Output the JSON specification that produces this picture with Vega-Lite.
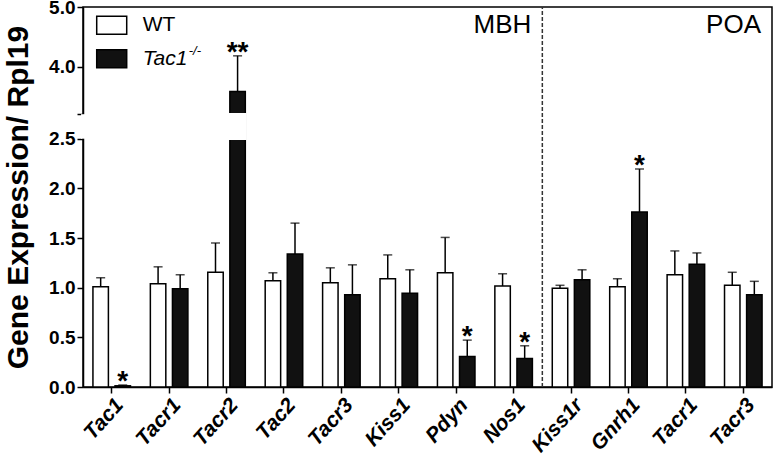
{
  "$schema": "https://vega.github.io/schema/vega-lite/v6.json",
  "width": 689,
  "height": 380,
  "autosize": {"type": "none"},
  "padding": {"left": 83, "top": 7, "right": 1, "bottom": 67},
  "background": "white",
  "config": {
    "view": {"stroke": "black", "strokeWidth": 1.5},
    "font": "Liberation Sans"
  },
  "datasets": {
    "expr": [
      {"key": "MBH Tac1", "genotype": "WT", "mean": 1.01, "upper": 1.10, "sig": ""},
      {"key": "MBH Tac1", "genotype": "KO", "mean": 0.012, "upper": 0.02, "sig": "*"},
      {"key": "MBH Tacr1", "genotype": "WT", "mean": 1.04, "upper": 1.21, "sig": ""},
      {"key": "MBH Tacr1", "genotype": "KO", "mean": 0.99, "upper": 1.13, "sig": ""},
      {"key": "MBH Tacr2", "genotype": "WT", "mean": 1.155, "upper": 1.45, "sig": ""},
      {"key": "MBH Tacr2", "genotype": "KO", "mean": 3.58, "upper": 4.18, "sig": "**"},
      {"key": "MBH Tac2", "genotype": "WT", "mean": 1.07, "upper": 1.15, "sig": ""},
      {"key": "MBH Tac2", "genotype": "KO", "mean": 1.34, "upper": 1.65, "sig": ""},
      {"key": "MBH Tacr3", "genotype": "WT", "mean": 1.05, "upper": 1.20, "sig": ""},
      {"key": "MBH Tacr3", "genotype": "KO", "mean": 0.93, "upper": 1.23, "sig": ""},
      {"key": "MBH Kiss1", "genotype": "WT", "mean": 1.09, "upper": 1.33, "sig": ""},
      {"key": "MBH Kiss1", "genotype": "KO", "mean": 0.944, "upper": 1.18, "sig": ""},
      {"key": "MBH Pdyn", "genotype": "WT", "mean": 1.15, "upper": 1.506, "sig": ""},
      {"key": "MBH Pdyn", "genotype": "KO", "mean": 0.307, "upper": 0.472, "sig": "*"},
      {"key": "MBH Nos1", "genotype": "WT", "mean": 1.017, "upper": 1.14, "sig": ""},
      {"key": "MBH Nos1", "genotype": "KO", "mean": 0.287, "upper": 0.415, "sig": "*"},
      {"key": "POA Kiss1r", "genotype": "WT", "mean": 0.994, "upper": 1.024, "sig": ""},
      {"key": "POA Kiss1r", "genotype": "KO", "mean": 1.08, "upper": 1.18, "sig": ""},
      {"key": "POA Gnrh1", "genotype": "WT", "mean": 1.01, "upper": 1.09, "sig": ""},
      {"key": "POA Gnrh1", "genotype": "KO", "mean": 1.763, "upper": 2.195, "sig": "*"},
      {"key": "POA Tacr1", "genotype": "WT", "mean": 1.13, "upper": 1.37, "sig": ""},
      {"key": "POA Tacr1", "genotype": "KO", "mean": 1.235, "upper": 1.35, "sig": ""},
      {"key": "POA Tacr3", "genotype": "WT", "mean": 1.024, "upper": 1.155, "sig": ""},
      {"key": "POA Tacr3", "genotype": "KO", "mean": 0.93, "upper": 1.064, "sig": ""}
    ]
  },
  "layer": [
    {
      "data": {"name": "expr"},
      "mark": {"type": "bar", "stroke": "black", "strokeWidth": 1.5},
      "encoding": {
        "x": {
          "field": "key", "type": "nominal",
          "scale": {
            "domain": ["MBH Tac1", "MBH Tacr1", "MBH Tacr2", "MBH Tac2", "MBH Tacr3", "MBH Kiss1", "MBH Pdyn", "MBH Nos1", "POA Kiss1r", "POA Gnrh1", "POA Tacr1", "POA Tacr3"],
            "paddingInner": 0, "paddingOuter": 0
          },
          "axis": {
            "title": null,
            "labelExpr": "split(datum.value, ' ')[1]",
            "labelAngle": -48,
            "labelAlign": "right",
            "labelBaseline": "top",
            "labelFontSize": 21,
            "labelFontWeight": "bold",
            "labelFontStyle": "italic",
            "labelColor": "black",
            "labelPadding": 1,
            "labelLimit": 200,
            "tickSize": 6,
            "tickWidth": 1.5,
            "tickColor": "black",
            "domainColor": "black",
            "domainWidth": 1.5,
            "zindex": 0
          }
        },
        "xOffset": {
          "field": "genotype", "type": "nominal",
          "scale": {"domain": ["WT", "KO"], "paddingInner": 0.3, "paddingOuter": 0.45}
        },
        "y": {
          "field": "mean", "type": "quantitative",
          "scale": {"domain": [0, 2.5, 3.2, 5.0], "range": [380, 131.7, 107.2, 0], "nice": false, "zero": false},
          "axis": {
            "title": "Gene Expression/ Rpl19",
            "titleFontSize": 30,
            "titleFontWeight": "bold",
            "titleColor": "black",
            "titlePadding": 15,
            "values": [0, 0.5, 1, 1.5, 2, 2.5, 3.2, 4, 5],
            "labelExpr": "datum.value == 3.2 ? '' : format(datum.value, '.1f')",
            "labelFontSize": 19,
            "labelFontWeight": "bold",
            "labelColor": "black",
            "labelPadding": 2,
            "tickSize": 6,
            "tickWidth": 1.5,
            "tickColor": "black",
            "domainColor": "black",
            "domainWidth": 1.5,
            "grid": false,
            "zindex": 0
          }
        },
        "fill": {
          "field": "genotype", "type": "nominal",
          "scale": {"domain": ["WT", "KO"], "range": ["white", "#111111"]},
          "legend": null
        }
      }
    },
    {
      "data": {"name": "expr"},
      "mark": {"type": "rule", "stroke": "black", "strokeWidth": 1.5},
      "encoding": {
        "x": {"field": "key", "type": "nominal"},
        "xOffset": {"field": "genotype", "type": "nominal"},
        "y": {"field": "mean", "type": "quantitative"},
        "y2": {"field": "upper"}
      }
    },
    {
      "data": {"name": "expr"},
      "mark": {"type": "tick", "color": "black", "thickness": 1.5, "size": 9},
      "encoding": {
        "x": {"field": "key", "type": "nominal"},
        "xOffset": {"field": "genotype", "type": "nominal"},
        "y": {"field": "upper", "type": "quantitative"}
      }
    },
    {
      "data": {"name": "expr"},
      "mark": {"type": "text", "fontSize": 28, "fontWeight": "bold", "color": "black", "baseline": "alphabetic", "align": "center", "dy": 5},
      "encoding": {
        "x": {"field": "key", "type": "nominal"},
        "xOffset": {"field": "genotype", "type": "nominal"},
        "y": {"field": "upper", "type": "quantitative"},
        "text": {"field": "sig"}
      }
    },
    {
      "data": {"values": [{"key": "MBH Tacr2", "genotype": "KO"}]},
      "mark": {"type": "bar", "fill": "white", "stroke": "white", "strokeWidth": 2.5},
      "encoding": {
        "x": {"field": "key", "type": "nominal"},
        "xOffset": {"field": "genotype", "type": "nominal"},
        "y": {"datum": 2.5},
        "y2": {"datum": 3.2}
      }
    },
    {
      "data": {"values": [{"key": "MBH Tac1"}]},
      "mark": {"type": "rule", "stroke": "white", "strokeWidth": 4},
      "encoding": {
        "x": {"field": "key", "type": "nominal", "bandPosition": 0},
        "y": {"datum": 2.5},
        "y2": {"datum": 3.2}
      }
    },
    {
      "data": {"values": [{"key": "POA Kiss1r"}]},
      "mark": {"type": "rule", "stroke": "#333333", "strokeWidth": 1.5, "strokeDash": [4, 2]},
      "encoding": {
        "x": {"field": "key", "type": "nominal", "bandPosition": 0},
        "y": {"datum": 0},
        "y2": {"datum": 5.0}
      }
    },
    {
      "data": {"values": [{"key": "MBH Nos1", "label": "MBH"}, {"key": "POA Tacr3", "label": "POA"}]},
      "mark": {"type": "text", "fontSize": 26, "color": "black", "align": "right", "baseline": "alphabetic", "dx": -11, "dy": 26},
      "encoding": {
        "x": {"field": "key", "type": "nominal", "bandPosition": 1},
        "y": {"datum": 5.0},
        "text": {"field": "label"}
      }
    },
    {
      "data": {"values": [{"genotype": "WT", "label": "WT"}]},
      "encoding": {
        "x": {"datum": "MBH Tac1"},
        "y": {"datum": 4.695}
      },
      "layer": [
        {
          "mark": {"type": "point", "shape": "M-1,-0.6L1,-0.6L1,0.6L-1,0.6Z", "size": 900, "filled": true, "stroke": "black", "strokeWidth": 1.5, "opacity": 1},
          "encoding": {"fill": {"field": "genotype", "type": "nominal"}}
        },
        {
          "mark": {"type": "text", "fontSize": 21, "color": "black", "align": "left", "baseline": "middle", "dx": 31},
          "encoding": {"text": {"field": "label"}}
        }
      ]
    },
    {
      "data": {"values": [{"genotype": "KO", "label": "Tac1", "sup": "-/-"}]},
      "encoding": {
        "x": {"datum": "MBH Tac1"},
        "y": {"datum": 4.133}
      },
      "layer": [
        {
          "mark": {"type": "point", "shape": "M-1,-0.6L1,-0.6L1,0.6L-1,0.6Z", "size": 900, "filled": true, "stroke": "black", "strokeWidth": 1.5, "opacity": 1},
          "encoding": {"fill": {"field": "genotype", "type": "nominal"}}
        },
        {
          "mark": {"type": "text", "fontSize": 21, "fontStyle": "italic", "color": "black", "align": "left", "baseline": "middle", "dx": 31},
          "encoding": {"text": {"field": "label"}}
        },
        {
          "mark": {"type": "text", "fontSize": 13, "fontStyle": "italic", "color": "black", "align": "left", "baseline": "middle", "dx": 77, "dy": -8},
          "encoding": {"text": {"field": "sup"}}
        }
      ]
    }
  ]
}
